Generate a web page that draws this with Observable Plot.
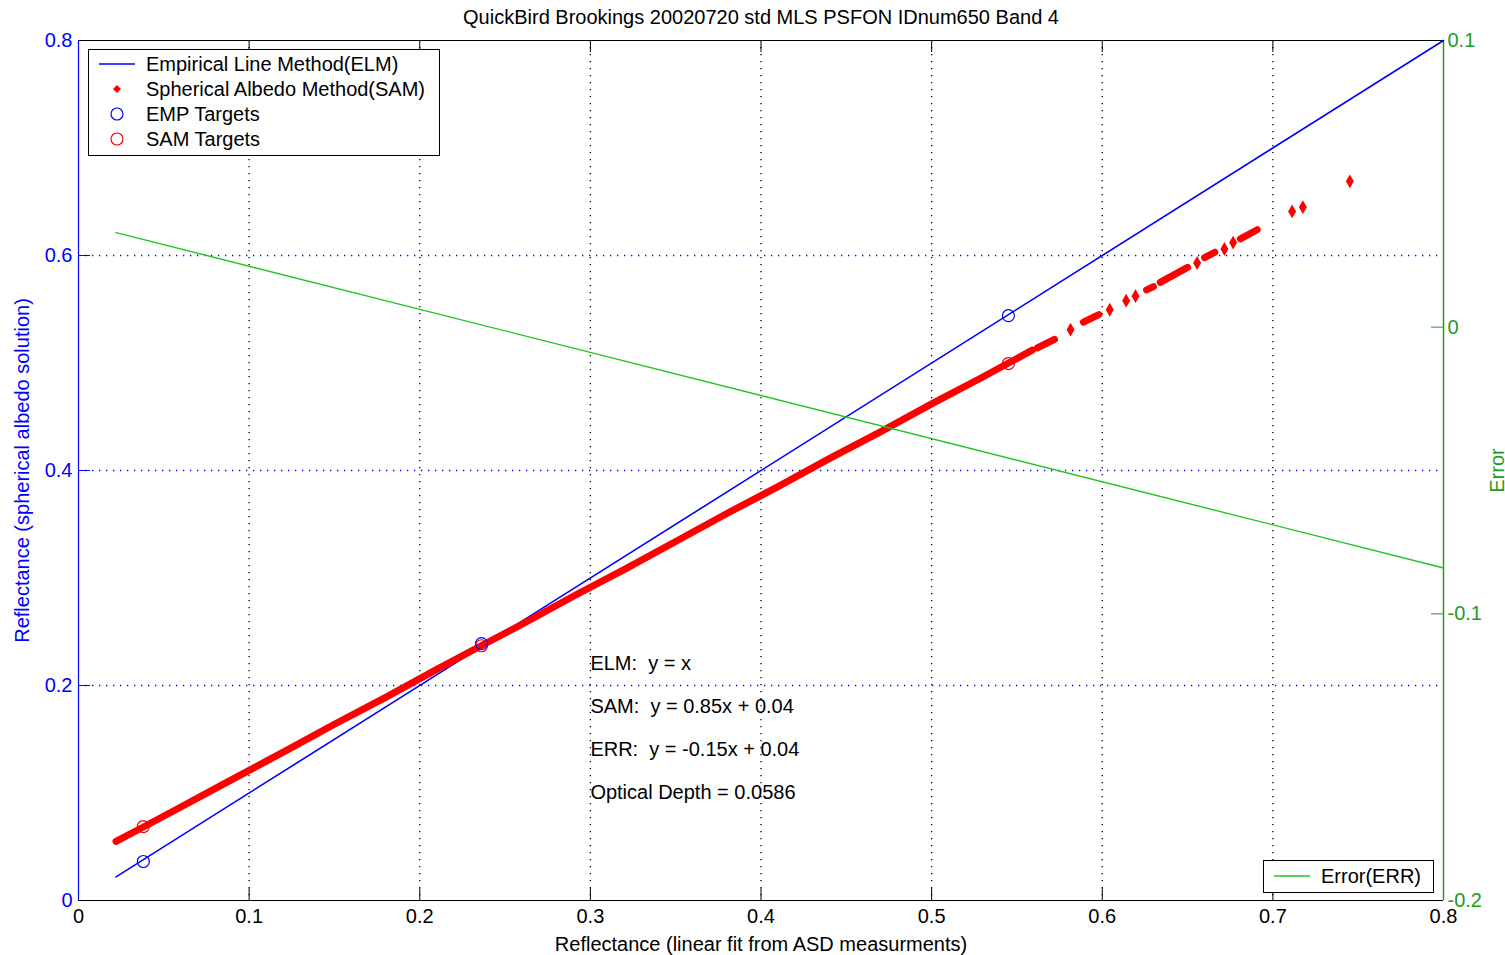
<!DOCTYPE html>
<html>
<head>
<meta charset="utf-8">
<script src="https://cdn.jsdelivr.net/npm/d3@7"></script>
<script src="https://cdn.jsdelivr.net/npm/@observablehq/plot@0.6"></script>
<style>
  html, body { margin: 0; padding: 0; background: #fff; }
  #wrap { position: relative; width: 1505px; height: 955px; font-family: "Liberation Sans", Arial, sans-serif; }
  .legend { position: absolute; background: #fff; border: 1px solid #000; box-sizing: border-box; font-size: 20px; color: #000; }
  .row { position: absolute; left: 0; height: 24px; line-height: 24px; white-space: nowrap; }
  .row svg { position: absolute; top: 0; }
  .row span { position: absolute; }
</style>
</head>
<body>
<div id="wrap"></div>
<script>
// ---------------- data ----------------
const titleText = "QuickBird Brookings 20020720 std MLS PSFON IDnum650 Band 4";
const xLabel = "Reflectance (linear fit from ASD measurments)";
const yLabel = "Reflectance (spherical albedo solution)";
const y2Label = "Error";

const xDomain = [0, 0.8];
const yDomain = [0, 0.8];
const errDomain = [-0.2, 0.1];

const xTicks = [0, 0.1, 0.2, 0.3, 0.4, 0.5, 0.6, 0.7, 0.8];
const xGrid = [0.1, 0.2, 0.3, 0.4, 0.5, 0.6, 0.7];
const yTicks = [0, 0.2, 0.4, 0.6, 0.8];
const yGrid = [0.2, 0.4, 0.6];
const errTicks = [0.1, 0, -0.1, -0.2];
const errTickLabels = ["0.1", "0", "-0.1", "-0.2"];
const errInnerTicks = [0, -0.1];

// ELM line (y = x)
const elmX = [0.022, 0.8];
const elmY = [0.022, 0.8];

// SAM point cloud (dense runs; null breaks a run)
const samX = [0.022, 0.04, 0.06, 0.08, 0.10, 0.12, 0.15, 0.18, 0.21, 0.236, 0.26, 0.29, 0.32, 0.35, 0.38, 0.41, 0.44, 0.47, 0.50, 0.53, 0.559,
              0.560, 0.562, 0.572, 0.575, 0.589, 0.598, 0.600, 0.626, 0.630, 0.632, 0.634, 0.650, 0.652, 0.660, 0.666, 0.668, 0.681, 0.6908];
const samY = [0.055, 0.070, 0.087, 0.104, 0.121, 0.138, 0.164, 0.189, 0.215, 0.237, 0.257, 0.283, 0.308, 0.334, 0.360, 0.385, 0.411, 0.436, 0.462, 0.487, 0.512,
              null, 0.514, 0.522, null, 0.538, 0.545, null, 0.568, 0.571, null, 0.575, 0.589, null, 0.598, 0.603, null, 0.6155, 0.624];
// SAM isolated points
const samPtX = [0.5814, 0.6044, 0.614, 0.6195, 0.6556, 0.6716, 0.6767, 0.7113, 0.7176, 0.7451];
const samPtY = [0.531, 0.5495, 0.558, 0.5622, 0.593, 0.606, 0.612, 0.641, 0.645, 0.669];

// Targets
const empTargetX = [0.038, 0.2362, 0.545];
const empTargetY = [0.0363, 0.239, 0.544];
const samTargetX = [0.038, 0.2362, 0.545];
const samTargetY = [0.0688, 0.237, 0.4995];

// Error line (right axis)
const errX = [0.022, 0.8];
const errY = [0.033, -0.084];

// Annotations
const noteX = [0.3, 0.3, 0.3, 0.3];
const noteY = [0.22, 0.18, 0.14, 0.10];
const noteText = ["ELM:  y = x", "SAM:  y = 0.85x + 0.04", "ERR:  y = -0.15x + 0.04", "Optical Depth = 0.0586"];

const legendLabels = ["Empirical Line Method(ELM)", "Spherical Albedo Method(SAM)", "EMP Targets", "SAM Targets"];
const legend2Label = "Error(ERR)";

// ---------------- styles ----------------
const BLUE = "#0000ff", RED = "#ff0000", GREEN_AX = "#1f9a1f", GREEN_LINE = "#22c322";
const W = 1505, H = 955, ML = 78, MR = 62, MT = 40, MB = 55;
const PW = W - ML - MR, PH = H - MT - MB, TICK = 12;
const FS = 20;

// map error values onto the left y scale
const errToY = e => yDomain[0] + (e - errDomain[0]) / (errDomain[1] - errDomain[0]) * (yDomain[1] - yDomain[0]);

const elm = elmX.map((x, i) => ({x, y: elmY[i]}));
const sam = samX.map((x, i) => ({x, y: samY[i]}));
const samPts = samPtX.map((x, i) => ({x, y: samPtY[i]}));
const empT = empTargetX.map((x, i) => ({x, y: empTargetY[i]}));
const samT = samTargetX.map((x, i) => ({x, y: samTargetY[i]}));
const err = errX.map((x, i) => ({x, y: errToY(errY[i])}));
const notes = noteX.map((x, i) => ({x, y: noteY[i], t: noteText[i]}));

const chart = Plot.plot({
  width: W, height: H,
  marginLeft: ML, marginRight: MR, marginTop: MT, marginBottom: MB,
  style: {fontFamily: "'Liberation Sans', Arial, sans-serif", fontSize: FS + "px", background: "#fff", color: "#000", overflow: "visible"},
  x: {domain: xDomain},
  y: {domain: yDomain},
  marks: [
    // grid
    Plot.ruleX(xGrid, {x: d => d, stroke: "#000", strokeDasharray: "1.3,5.7", strokeWidth: 1.3}),
    Plot.ruleY(yGrid, {y: d => d, stroke: BLUE, strokeDasharray: "1.3,5.7", strokeWidth: 1.3}),
    // ticks (inward)
    Plot.ruleX(xGrid, {x: d => d, insetTop: PH - TICK, stroke: "#000"}),
    Plot.ruleX(xGrid, {x: d => d, insetBottom: PH - TICK, stroke: "#000"}),
    Plot.ruleY(yGrid, {y: d => d, insetRight: PW - TICK, stroke: BLUE}),
    Plot.ruleY(errInnerTicks, {y: d => errToY(d), insetLeft: PW - TICK, stroke: GREEN_AX}),
    // frame
    Plot.ruleY([yDomain[1]], {stroke: "#000", strokeWidth: 1.2}),
    Plot.ruleY([yDomain[0]], {stroke: "#000", strokeWidth: 1.2}),
    Plot.ruleX([xDomain[0]], {stroke: BLUE, strokeWidth: 1.2}),
    Plot.ruleX([xDomain[1]], {stroke: GREEN_AX, strokeWidth: 1.5}),
    // axes
    Plot.axisX(xTicks, {tickSize: 0, tickPadding: 8, tickFormat: d => String(d), label: null, fontSize: FS}),
    Plot.axisY(yTicks, {tickSize: 0, tickPadding: 6, tickFormat: d => String(d), label: null, color: BLUE, fontSize: FS}),
    Plot.text(errTicks, {y: d => errToY(d), text: (d, i) => errTickLabels[i], frameAnchor: "right", textAnchor: "start", lineAnchor: "middle", dx: 4, fill: GREEN_AX, fontSize: FS}),
    // ELM
    Plot.line(elm, {x: "x", y: "y", stroke: BLUE, strokeWidth: 1.6}),
    // SAM
    Plot.line(sam, {x: "x", y: "y", stroke: RED, strokeWidth: 7, strokeLinecap: "round"}),
    Plot.dot(samPts, {x: "x", y: "y", symbol: "diamond", r: 4.2, fill: RED}),
    // targets
    Plot.dot(samT, {x: "x", y: "y", r: 6, stroke: RED, strokeWidth: 1.2, fill: "none"}),
    Plot.dot(empT, {x: "x", y: "y", r: 6, stroke: BLUE, strokeWidth: 1.2, fill: "none"}),
    // error
    Plot.line(err, {x: "x", y: "y", stroke: GREEN_LINE, strokeWidth: 1.4}),
    // annotations
    Plot.text(notes, {x: "x", y: "y", text: "t", textAnchor: "start", lineAnchor: "middle", fill: "#000", fontSize: FS}),
    // titles
    Plot.text([titleText], {frameAnchor: "top", lineAnchor: "middle", textAnchor: "middle", dy: -23, fill: "#000", fontSize: FS}),
    Plot.text([xLabel], {frameAnchor: "bottom", lineAnchor: "middle", textAnchor: "middle", dy: 44, fill: "#000", fontSize: FS}),
    Plot.text([yLabel], {frameAnchor: "left", lineAnchor: "middle", textAnchor: "middle", dx: -56, rotate: -90, fill: BLUE, fontSize: FS}),
    Plot.text([y2Label], {frameAnchor: "right", lineAnchor: "middle", textAnchor: "middle", dx: 54, rotate: -90, fill: GREEN_AX, fontSize: FS})
  ]
});

const wrap = document.getElementById("wrap");
wrap.appendChild(chart);

// ---------------- legends (HTML overlays) ----------------
function legendBox(left, top, width, height) {
  const d = document.createElement("div");
  d.className = "legend";
  Object.assign(d.style, {left: left + "px", top: top + "px", width: width + "px", height: height + "px"});
  wrap.appendChild(d);
  return d;
}
function row(box, top, symbolSvg, label, symLeft, textLeft) {
  const r = document.createElement("div");
  r.className = "row";
  r.style.top = top + "px";
  r.style.width = "100%";
  r.innerHTML = `<svg width="40" height="24" style="left:${symLeft}px">${symbolSvg}</svg><span style="left:${textLeft}px">${label}</span>`;
  box.appendChild(r);
}
const lg = legendBox(88, 49, 352, 107);
const syms = [
  `<line x1="2" y1="12" x2="38" y2="12" stroke="${BLUE}" stroke-width="1.4"/>`,
  `<path d="M20,8 L24,12 L20,16 L16,12 Z" fill="${RED}"/>`,
  `<circle cx="20" cy="12" r="6" fill="none" stroke="${BLUE}" stroke-width="1.2"/>`,
  `<circle cx="20" cy="12" r="6" fill="none" stroke="${RED}" stroke-width="1.2"/>`
];
legendLabels.forEach((lab, i) => row(lg, 2 + i * 25, syms[i], lab, 8, 57));

const lg2 = legendBox(1263, 860, 171, 33);
row(lg2, 3, `<line x1="2" y1="12" x2="38" y2="12" stroke="${GREEN_LINE}" stroke-width="1.4"/>`, legend2Label, 8, 57);
</script>
</body>
</html>
